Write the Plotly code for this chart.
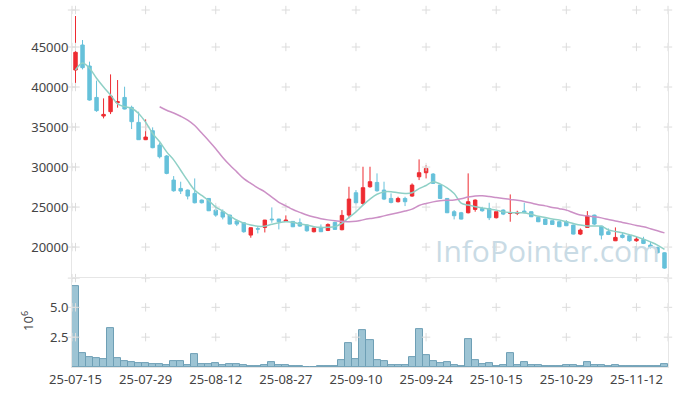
import plotly.graph_objects as go

dates = ["25-07-15","25-07-16","25-07-17","25-07-18","25-07-21","25-07-22","25-07-23","25-07-24","25-07-25","25-07-28",
         "25-07-29","25-07-30","25-07-31","25-08-01","25-08-04","25-08-05","25-08-06","25-08-07","25-08-08","25-08-11",
         "25-08-12","25-08-13","25-08-14","25-08-18","25-08-19","25-08-20","25-08-21","25-08-22","25-08-25","25-08-26",
         "25-08-27","25-08-28","25-08-29","25-09-01","25-09-02","25-09-03","25-09-04","25-09-05","25-09-08","25-09-09",
         "25-09-10","25-09-11","25-09-12","25-09-15","25-09-16","25-09-17","25-09-18","25-09-19","25-09-22","25-09-23",
         "25-09-24","25-09-25","25-09-26","25-09-29","25-09-30","25-10-01","25-10-02","25-10-10","25-10-13","25-10-14",
         "25-10-15","25-10-16","25-10-17","25-10-20","25-10-21","25-10-22","25-10-23","25-10-24","25-10-27","25-10-28",
         "25-10-29","25-10-30","25-10-31","25-11-03","25-11-04","25-11-05","25-11-06","25-11-07","25-11-10","25-11-11",
         "25-11-12","25-11-13","25-11-14","25-11-17","25-11-18"]

open_ = [42125,45250,42625,38700,36375,36920,38040,38700,37460,35580,
         33420,34540,32750,31380,28375,27330,27125,26710,25875,26080,
         24625,24420,24000,23250,23040,21500,22300,22460,23500,23500,
         23210,23210,23040,22750,21920,22420,22080,23080,22170,24000,
         26790,25460,27540,28080,27125,26080,25670,26080,26375,28790,
         29290,29125,27750,26080,24420,24290,24290,24710,24830,24830,
         23670,24625,24210,24210,24500,24420,23710,23500,23290,23170,
         23170,22750,21625,22460,24000,22625,21920,20790,21500,21420,
         20790,20960,20250,19960,19290]
high = [48875,45875,43170,40800,38580,41580,40875,40040,37670,36920,
        35960,34960,33040,31500,28875,28170,27200,28580,25950,26120,
        25250,24710,24050,23460,23080,22450,22625,23400,24960,23550,
        23960,23250,23580,22830,22420,22830,22960,23170,24625,27540,
        27125,30040,30040,29210,28170,26710,26290,26290,27960,30960,
        30250,29250,27800,26100,24625,24400,29210,25950,25040,25540,
        24450,24710,26580,24540,25540,24450,23750,23550,23330,23200,
        23375,22800,22330,24500,24050,22650,22330,22460,21790,21580,
        21290,21290,20670,20040,19350]
low = [40460,42200,38300,36900,36080,36620,37420,37200,34750,33380,
       33370,32350,31080,29100,26920,26630,25960,25460,25450,24500,
       23790,23460,22830,22625,21790,21170,21710,21830,23040,22210,
       23180,22500,22540,21920,21830,21900,22000,22200,22100,23580,
       25330,25250,27420,26920,25875,25460,25580,25125,26290,28375,
       28580,27900,26000,24250,23460,23450,24210,24420,24420,23375,
       23580,24000,23170,24000,24210,23750,23120,22800,22800,22500,
       22625,21580,21500,22450,22750,20960,21500,20750,21080,20670,
       20670,20375,19830,19200,17300]
close = [44340,42420,38375,37050,36580,38875,38170,37250,35670,33420,
         33750,32420,31290,29210,27040,27000,26375,25540,25540,24540,
         24000,23750,22875,22875,21920,22420,22250,23375,23420,23170,
         23375,22540,22625,22040,22375,21920,22830,22210,23960,26000,
         25540,27420,28170,27040,26000,25580,26080,25670,27750,29290,
         29830,27960,26080,24290,23920,23500,25670,25875,24540,23670,
         24420,24125,24290,24330,24290,23790,23170,22830,22830,22540,
         22670,21625,22125,23875,22875,21500,21580,21210,21210,20790,
         21000,20460,19960,19290,17375]

# 5-day and 20-day moving averages as drawn in the reference
ma5 = [42125,43000,42340,41090,40000,39000,37900,37550,37350,36700,
       35600,34200,33160,31900,30900,29600,28300,27120,26450,25800,
       25000,24500,23900,23350,23000,22750,22600,22620,22850,23050,
       23160,23100,22900,22750,22550,22470,22480,22560,22980,23700,
       24400,25250,26000,26600,26900,26920,26780,26710,26780,27300,
       27700,28150,27900,27400,26700,25500,25250,25050,24900,24750,
       24620,24400,24320,24290,24290,24100,23850,23700,23500,23380,
       23170,22950,22750,22650,22630,22620,22150,21950,21790,21550,
       21300,21000,20650,20250,19710]
ma20 = [None]*12 + [37540,37100,36750,36350,35875,35200,34250,33300,
        32300,31200,30250,29400,28550,27950,27400,26900,26250,25600,
        25150,24700,24340,24000,23750,23550,23400,23280,23220,23160,
        23220,23400,23560,23700,23900,24100,24300,24500,24750,25200,
        25450,25650,25780,25850,25900,26050,26250,26380,26400,26320,
        26200,26080,25960,25850,25700,25500,25300,25150,24960,24800,
        24620,24300,24000,23900,23790,23650,23450,23250,23080,22900,
        22700,22530,22300,22050,21780]

# volume in millions of shares
volume = [6.75,1.14,0.83,0.75,0.67,3.25,0.75,0.50,0.42,0.33,
          0.33,0.25,0.25,0.17,0.50,0.50,0.17,1.08,0.25,0.25,
          0.33,0.17,0.25,0.25,0.17,0.08,0.08,0.17,0.42,0.17,
          0.17,0.08,0.08,0.01,0.01,0.08,0.08,0.08,0.58,2.00,
          0.67,3.08,2.25,0.58,0.50,0.17,0.17,0.17,0.83,3.17,
          1.00,0.50,0.33,0.42,0.17,0.08,2.33,0.58,0.25,0.33,
          0.08,0.17,1.17,0.17,0.42,0.17,0.17,0.08,0.08,0.08,
          0.17,0.17,0.08,0.42,0.17,0.17,0.08,0.17,0.08,0.08,
          0.08,0.08,0.08,0.08,0.25]

price_ticks = [20000, 25000, 30000, 35000, 40000, 45000]
price_ticklabels = ["20000", "25000", "30000", "35000", "40000", "45000"]
vol_ticks = [2.5, 5.0]
vol_ticklabels = ["2.5", "5.0"]
tick_idx = [0, 10, 20, 30, 40, 50, 60, 70, 80]

idx = list(range(len(dates)))
x_range = [-0.5, len(dates) - 0.5]
price_range = [16125, 49625]
vol_range = [0, 7.45]

RED = "#ee2b31"
BLUE = "#66c1da"
GRID = "#dcdcdc"
AXIS = "#e6e6e6"

fig = go.Figure()

# cross grid markers
cx, cy = [], []
for xv in [x_range[0]] + tick_idx + [x_range[1]]:
    for yv in price_ticks + [price_range[1]]:
        cx.append(xv); cy.append(yv)
fig.add_trace(go.Scatter(x=cx, y=cy, mode="markers", hoverinfo="skip", showlegend=False,
                         cliponaxis=False,
                         marker=dict(symbol="cross-thin", size=6, line=dict(color=GRID, width=1)),
                         xaxis="x", yaxis="y"))
vx, vy = [], []
for xv in [x_range[0]] + tick_idx + [x_range[1]]:
    for yv in vol_ticks + [vol_range[1]]:
        vx.append(xv); vy.append(yv)
fig.add_trace(go.Scatter(x=vx, y=vy, mode="markers", hoverinfo="skip", showlegend=False,
                         cliponaxis=False,
                         marker=dict(symbol="cross-thin", size=6, line=dict(color=GRID, width=1)),
                         xaxis="x", yaxis="y2"))

fig.add_trace(go.Candlestick(
    x=idx, open=open_, high=high, low=low, close=close,
    increasing=dict(line=dict(color=RED, width=1), fillcolor=RED),
    decreasing=dict(line=dict(color=BLUE, width=1), fillcolor=BLUE),
    whiskerwidth=0, showlegend=False, xaxis="x", yaxis="y"))

fig.add_trace(go.Scatter(x=idx, y=ma5, mode="lines", line=dict(color="#8fd0c6", width=1.5, shape="spline"),
                         showlegend=False, xaxis="x", yaxis="y"))
fig.add_trace(go.Scatter(x=idx, y=ma20, mode="lines", line=dict(color="#cc90c6", width=1.5, shape="spline"),
                         showlegend=False, xaxis="x", yaxis="y"))

fig.add_trace(go.Bar(x=idx, y=volume, marker=dict(color="#9dc4d4", line=dict(color="#6e9fb5", width=1)),
                     showlegend=False, xaxis="x", yaxis="y2"))

font = dict(family="Noto Sans", size=13, color="#444444")

fig.update_layout(
    width=677, height=396,
    margin=dict(l=72, r=9, t=10, b=29),
    paper_bgcolor="white", plot_bgcolor="white",
    bargap=0,
    font=font,
    xaxis=dict(range=x_range, tickvals=tick_idx, ticktext=[dates[i] for i in tick_idx],
               showgrid=False, zeroline=False, showline=True, linecolor=AXIS, mirror=True,
               ticks="", rangeslider=dict(visible=False), anchor="y2", tickfont=font),
    yaxis=dict(domain=[0.249, 1], range=price_range, tickvals=price_ticks, ticktext=price_ticklabels,
               showgrid=False, zeroline=False, showline=True, linecolor=AXIS, mirror=True,
               ticks="", tickfont=font),
    yaxis2=dict(domain=[0, 0.249], range=vol_range, tickvals=vol_ticks, ticktext=vol_ticklabels,
                showgrid=False, zeroline=False, showline=True, linecolor=AXIS, mirror=True,
                ticks="", tickfont=font),
    annotations=[
        dict(text="10<sup>6</sup>", xref="paper", yref="paper", x=-0.075, y=0.13,
             showarrow=False, textangle=-90, font=font, xanchor="center", yanchor="middle"),
        dict(text="InfoPointer.com", xref="paper", yref="paper", x=0.99, y=0.262,
             xanchor="right", yanchor="bottom", showarrow=False,
             font=dict(family="Open Sans", size=30, color="#c9dbe5")),
    ],
)

fig.write_html("out.html", config={"displayModeBar": False},
               post_script="document.body.style.margin='0';document.body.style.overflow='hidden';")
